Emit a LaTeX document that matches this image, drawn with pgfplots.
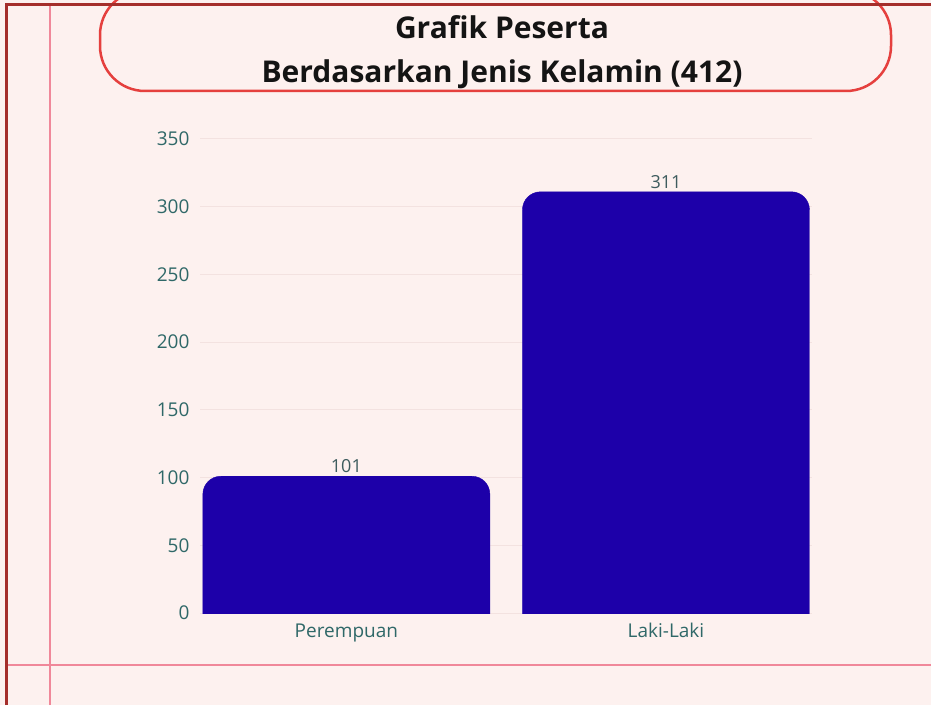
\documentclass[border=0pt]{standalone}
\usepackage{pgfplots}
\pgfplotsset{compat=1.18}
\usepackage{fontspec}
\setmainfont{Open Sans}
\definecolor{bg}{HTML}{FDF1EF}
\definecolor{barblue}{HTML}{1D00A9}
\definecolor{tickteal}{HTML}{2F6868}
\definecolor{valc}{HTML}{3E5C5E}
\definecolor{gridc}{HTML}{F3E2E0}
\definecolor{boxred}{HTML}{E5403E}
\definecolor{darkred}{HTML}{A52E2B}
\definecolor{pinkline}{HTML}{F0889A}
\pgfdeclareplotmark{rbar}{%
  \fill[rounded corners=18pt] (-143.5pt,-470pt) rectangle (143.5pt,0pt);}
\begin{document}
\begin{tikzpicture}[x=1pt,y=1pt]
\useasboundingbox (0,0) rectangle (931,705);
\fill[bg] (0,0) rectangle (931,705);
\draw[pinkline, line width=1.8pt] (6,40) -- (931,40);
\draw[pinkline, line width=1.8pt] (50,0) -- (50,700);
\draw[boxred, line width=2.5pt, rounded corners=45pt, fill=bg] (100,614) rectangle (891,715);
\draw[darkred, line width=3pt] (6,0) -- (6,700) -- (931,700);
\node[anchor=base, font=\bfseries\fontsize{30}{36}\selectfont, text=black!92] at (502,666) {Grafik Peserta};
\node[anchor=base, font=\bfseries\fontsize{30}{36}\selectfont, text=black!92] at (502,622) {Berdasarkan Jenis Kelamin (412)};
\begin{axis}[
  at={(200pt,92pt)}, anchor=south west,
  scale only axis, width=612pt, height=474pt,
  xmin=-0.458, xmax=1.457, ymin=0, ymax=350,
  xtick={0,1}, xticklabels={Perempuan,Laki-Laki},
  ytick={0,50,...,350},
  axis line style={draw=none},
  major tick length=0pt,
  ymajorgrids, major grid style={gridc, line width=1pt},
  tick label style={font=\fontsize{19}{21}\selectfont, text=tickteal},
  yticklabel style={xshift=-7pt},
  xticklabel style={yshift=-7pt},
  /pgf/number format/assume math mode=true,
  clip marker paths=true,
]
\addplot[only marks, mark=rbar, color=barblue,
  nodes near coords,
  nodes near coords style={font=\fontsize{18}{20}\selectfont, text=valc, anchor=south, inner sep=2pt, yshift=1pt}]
  coordinates {(0,101) (1,311)};
\end{axis}
\end{tikzpicture}
\end{document}
